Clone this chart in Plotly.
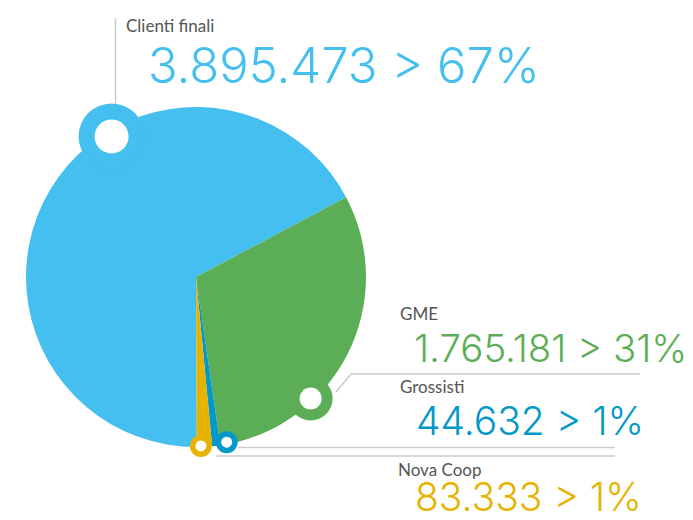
import math
import plotly.graph_objects as go

# ---- data ----
categories = ["Clienti finali", "GME", "Grossisti", "Nova Coop"]
values = [3895473, 1765181, 44632, 83333]
percent_labels = ["67%", "31%", "1%", "1%"]

# ---- style ----
colors = ["#44BFEF", "#5BAE55", "#0398C8", "#E5B300"]
W, H = 693, 520
CX, CY, R = 196, 277, 170          # pie centre / radius in pixels
GME_START = 62                     # degrees clockwise from 12 o'clock
LINE_COL = "#C9CCCF"
LABEL_COL = "#555555"
FONT = "Lato"
NUM_FONT = "Inter"


def px(x):
    return x / W


def py(y):
    return 1 - y / H


total = sum(values)
spans = [v / total * 360 for v in values]
rotation = GME_START - spans[0]
starts = []
a = rotation
for s in spans:
    starts.append(a)
    a += s
ends = [s + sp for s, sp in zip(starts, spans)]

fig = go.Figure()
fig.add_trace(go.Pie(
    labels=categories, values=values, sort=False, direction="clockwise",
    rotation=rotation, marker=dict(colors=colors, line=dict(width=0)),
    textinfo="none", hoverinfo="label+value", showlegend=False,
    domain=dict(x=[px(CX - R), px(CX + R)], y=[py(CY + R), py(CY - R)]),
))

# ring markers: (angle, distance from centre, outer r, inner r)
rings = [
    (starts[0] + 0.61 * spans[0] + 1.5, 164, 33, 17),
    (starts[1] + 0.68 * spans[1], 167, 22, 11),
    (starts[2] - 2.3, 168, 11, 5.5),
    (ends[3] - 1.4, 169, 11, 5.5),
]

shapes = []
# leader lines
leaders = [
    [(115.5, 18), (115.5, 110)],
    [(336, 392), (351, 374), (640, 374)],
    [(238, 447.5), (615, 447.5)],
    [(216, 456), (615, 456)],
]
for pts in leaders:
    for (x0, y0), (x1, y1) in zip(pts[:-1], pts[1:]):
        shapes.append(dict(type="line", xref="paper", yref="paper",
                           x0=px(x0), y0=py(y0), x1=px(x1), y1=py(y1),
                           line=dict(color=LINE_COL, width=1.5), layer="above"))

for (ang, dist, ro, ri), col in zip(rings, colors):
    t = math.radians(ang)
    x = CX + dist * math.sin(t)
    y = CY - dist * math.cos(t)
    shapes.append(dict(type="circle", xref="paper", yref="paper",
                       x0=px(x - ro), x1=px(x + ro), y0=py(y + ro), y1=py(y - ro),
                       fillcolor=col, line=dict(width=0), layer="above"))
    shapes.append(dict(type="circle", xref="paper", yref="paper",
                       x0=px(x - ri), x1=px(x + ri), y0=py(y + ri), y1=py(y - ri),
                       fillcolor="white", line=dict(width=0), layer="above"))

# labels: (name x, name cap-mid y, number x, number cap-mid y, number size)
label_pos = [
    (124, 26, 148, 65, 49),
    (398, 314, 414, 348, 38.4),
    (398, 387, 416, 420.5, 39),
    (396, 470, 415, 496, 39),
]
annotations = []
for cat, val, pct, col, (nx, ny, vx, vy, vs) in zip(categories, values, percent_labels,
                                                     colors, label_pos):
    annotations.append(dict(
        text=cat, x=px(nx), y=py(ny - 0.027 * 17), xref="paper", yref="paper",
        xanchor="left", yanchor="middle", showarrow=False,
        font=dict(family=FONT, size=17, color=LABEL_COL)))
    num = f"{val:,}".replace(",", ".")
    annotations.append(dict(
        text=f"{num} &gt; {pct}", x=px(vx), y=py(vy), xref="paper", yref="paper",
        xanchor="left", yanchor="middle", showarrow=False, borderpad=0, borderwidth=0,
        font=dict(family=NUM_FONT, size=vs, color=col, weight=300)))

fig.update_layout(
    width=W, height=H, margin=dict(l=0, r=0, t=0, b=0),
    paper_bgcolor="white", plot_bgcolor="white",
    shapes=shapes, annotations=annotations,
)
fig.write_html("out.html", config={"displayModeBar": False},
               post_script="document.body.style.margin='0';")
